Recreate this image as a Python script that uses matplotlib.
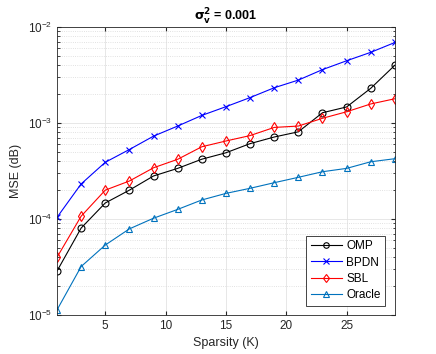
import numpy as np
import matplotlib
matplotlib.use('Agg')
import matplotlib.pyplot as plt
from matplotlib.ticker import LogLocator, NullFormatter

plt.rcParams['font.family'] = ['Liberation Sans', 'DejaVu Sans']

# sparsity levels
K = [1, 3, 5, 7, 9, 11, 13, 15, 17, 19, 21, 23, 25, 27, 29]

omp = [2.87e-5, 8.05e-5, 1.47e-4, 2.0e-4, 2.81e-4, 3.37e-4, 4.2e-4, 4.9e-4,
       6.1e-4, 7.15e-4, 8.1e-4, 1.28e-3, 1.47e-3, 2.3e-3, 4.0e-3]
bpdn = [1.04e-4, 2.32e-4, 3.9e-4, 5.3e-4, 7.3e-4, 9.3e-4, 1.2e-3, 1.48e-3,
        1.84e-3, 2.33e-3, 2.8e-3, 3.6e-3, 4.45e-3, 5.45e-3, 6.9e-3]
sbl = [3.99e-5, 1.07e-4, 2.0e-4, 2.49e-4, 3.42e-4, 4.19e-4, 5.66e-4, 6.5e-4,
       7.4e-4, 9.0e-4, 9.3e-4, 1.12e-3, 1.31e-3, 1.58e-3, 1.79e-3]
oracle = [1.13e-5, 3.2e-5, 5.36e-5, 7.9e-5, 1.02e-4, 1.26e-4, 1.58e-4, 1.85e-4,
          2.09e-4, 2.39e-4, 2.72e-4, 3.11e-4, 3.37e-4, 3.95e-4, 4.25e-4]

fig = plt.figure(figsize=(4.36, 3.54), dpi=100)
ax = fig.add_axes([0.1307, 0.110, 0.775, 0.8137])

lw = 0.8
ms = 5
ax.semilogy(K, omp, '-o', color='black', lw=lw, ms=ms, mfc='none', mew=0.8, label='OMP')
ax.semilogy(K, bpdn, '-x', color='#0000ff', lw=lw, ms=ms, mew=0.8, label='BPDN')
ax.semilogy(K, sbl, '-d', color='#ff0000', lw=lw, ms=ms + 0.5, mfc='none', mew=0.8, label='SBL')
ax.semilogy(K, oracle, '-^', color='#0072BD', lw=lw, ms=ms, mfc='none', mew=0.8, label='Oracle')

ax.set_xlim(1, 29)
ax.set_ylim(1e-5, 1e-2)
ax.set_xticks([5, 10, 15, 20, 25])
ax.yaxis.set_minor_locator(LogLocator(base=10, subs=np.arange(2, 10)))
ax.yaxis.set_minor_formatter(NullFormatter())

ax.grid(True, which='major', color='#e3e3e3', lw=0.6)
ax.grid(True, which='minor', axis='y', color='#d8d8d8', lw=0.6, ls=':')
ax.tick_params(which='both', direction='in', top=True, right=True,
               labelsize=8.5, color='#262626', labelcolor='#262626')
ax.tick_params(which='major', length=3)
ax.tick_params(which='minor', length=1.8)
for s in ax.spines.values():
    s.set_color('#262626')
    s.set_linewidth(0.6)

ax.set_xlabel('Sparsity (K)', fontsize=9, color='#262626')
ax.set_ylabel('MSE (dB)', fontsize=9, color='#262626')
ax.set_title(r'$\mathbf{\sigma_v^2}$ = 0.001', fontsize=9, fontweight='bold', pad=4)

leg = ax.legend(loc='lower right', fontsize=8.5, fancybox=False, framealpha=1,
                edgecolor='#262626', handlelength=2.6, borderpad=0.4,
                labelspacing=0.35, handletextpad=0.4, borderaxespad=0.8,
                markerscale=0.8)
leg.get_frame().set_linewidth(0.6)

fig.savefig('out.png', dpi=100)
